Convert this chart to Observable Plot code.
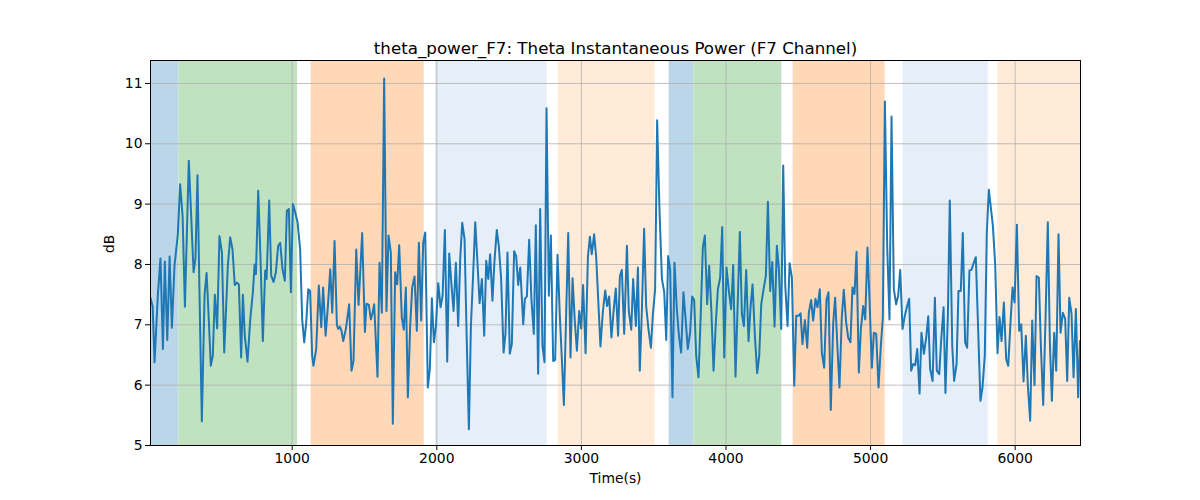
<!DOCTYPE html>
<html><head><meta charset="utf-8">
<script src="https://cdn.jsdelivr.net/npm/d3@7"></script>
<script src="https://cdn.jsdelivr.net/npm/@observablehq/plot@0.6"></script>
<style>body{margin:0;background:#fff}#chart svg{font-family:"DejaVu Sans",sans-serif}</style>
</head><body><div id="chart"></div>
<script>
const titleText = "theta_power_F7: Theta Instantaneous Power (F7 Channel)";
const xLabel = "Time(s)";
const yLabel = "dB";
const xTicks = [1000, 2000, 3000, 4000, 5000, 6000];
const yTicks = [5, 6, 7, 8, 9, 10, 11];

const times = [20,35,48,71,89,106,119,136,152,168,186,209,225,242,258,285,318,331,345,359,375,394,408,421,437,451,465,481,497,514,530,555,571,587,603,617,631,647,659,
672,691,710,728,740,749,765,781,797,813,823,841,855,871,887,903,917,933,949,963,977,991,1005,1021,1037,1055,1069,1083,1097,1111,1124,1138,1147,1166,1184,1201,1214,1231,1247,1263,1277,1293,1309,
1318,1330,1341,1353,1371,1394,1410,1424,1443,1459,1484,1503,1514,1530,1544,1556,1567,1590,1604,1620,1636,1652,1666,1682,1696,1712,1726,1740,1758,1772,1786,1800,1816,1830,1846,1862,1876,1892,1906,1920,1938,
1952,1966,1980,1994,2010,2026,2040,2056,2072,2086,2102,2116,2132,2148,2162,2176,2192,2206,2222,2236,2252,2266,2282,2296,2312,2328,2342,2356,2369,2385,2399,2415,2429,2445,2462,2475,2489,2505,2519,2535,2549,2563,2577,2598,
2609,2623,2639,2655,2671,2685,2701,2715,2731,2745,2759,2775,2789,2805,2819,2835,2851,2865,2879,2895,2909,2925,2939,2955,2969,2985,2999,3012,3029,3045,3059,3072,3088,3102,3118,3132,3148,3165,3178,3192,3208,3225,3238,3254,3266,
3280,3296,3315,3328,3345,3358,3377,3391,3404,3418,3434,3448,3464,3481,3494,3510,3524,3540,3557,3573,3587,3600,3614,3630,3644,3660,3676,3690,3706,3720,3736,3752,3766,3780,3794,3810,3826,3840,3854,3870,3884,3900,3914,
3930,3944,3960,3974,3988,4004,4020,4036,4050,4066,4080,4096,4110,4124,4140,4156,4170,4184,4200,4216,4230,4244,4260,4276,4290,4306,4320,4336,4352,4366,4382,4396,4410,4426,4440,4456,4472,4486,4502,4516,4529,4546,4562,
4573,4589,4603,4619,4633,4649,4663,4679,4695,4709,4725,4742,4755,4772,4785,4801,4815,4831,4845,4861,4875,4889,4903,4919,4933,4949,4963,4979,4993,5009,5023,5039,5055,5071,5085,5099,5115,5131,5145,5161,5177,5191,5205,5221,
5237,5253,5267,5281,5295,5309,5323,5339,5352,5369,5385,5399,5412,5429,5445,5458,5475,5488,5505,5518,5535,5548,5565,5578,5595,5608,5624,5638,5654,5668,5684,5698,5714,5728,5744,5760,5774,5790,5804,5818,
5846,5862,5878,5892,5906,5922,5938,5952,5968,5982,5996,6012,6028,6042,6058,6074,6088,6104,6118,6134,6148,6164,6178,6194,6210,6226,6240,6254,6270,6284,6300,6314,6330,6346,6360,6374,6390,6404,6420,6436,6448];

const values = [7.45,7.3,6.38,7.5,8.1,6.6,8.05,6.75,8.13,6.95,7.98,8.5,9.33,8.8,7.3,9.72,7.87,8.1,9.48,7.5,5.4,7.5,7.86,7.2,6.32,6.49,7.5,6.94,8.47,8.2,6.54,7.98,8.45,8.25,7.66,7.7,7.67,6.46,7.5,
6.82,6.39,7.09,7.54,8.0,7.84,9.22,8.09,6.73,7.9,7.76,9.06,7.81,7.71,7.87,8.31,8.36,7.92,7.73,8.89,8.92,7.54,9.0,8.86,8.7,8.25,7.09,6.71,7.04,7.59,7.56,6.49,6.32,6.6,7.65,6.96,7.62,6.82,7.31,7.92,7.2,8.39,7.0,
6.93,6.97,6.9,6.73,6.93,7.34,6.24,6.4,8.25,7.33,8.52,6.88,7.35,7.33,7.09,7.2,7.34,6.14,8.03,7.2,11.08,7.23,8.48,8.2,5.36,7.87,7.67,8.32,7.12,6.92,7.62,5.8,6.98,7.62,7.8,6.9,8.36,7.07,8.36,8.53,5.96,
6.27,7.44,6.71,6.98,7.69,7.29,7.48,8.57,6.39,8.18,7.65,7.23,8.03,6.98,8.09,8.69,8.42,6.87,5.27,6.98,7.87,8.7,8.0,7.36,7.76,6.82,8.06,7.76,8.17,7.4,8.06,8.57,8.31,7.76,6.54,6.85,8.2,6.52,6.68,8.22,8.14,7.66,7.95,7.01,
7.43,7.47,8.41,7.4,6.85,8.65,6.19,8.92,6.65,6.38,10.59,7.48,8.48,6.4,6.42,8.16,7.15,6.43,5.67,7.2,8.52,6.46,7.77,7.04,6.57,7.23,6.94,7.66,6.53,8.12,8.46,8.17,8.5,8.14,7.34,6.64,7.2,7.57,7.31,7.47,6.79,7.29,7.6,6.82,7.8,
7.91,6.85,8.31,7.23,6.92,7.76,6.98,7.95,6.24,7.2,8.59,7.31,6.93,6.62,7.15,7.59,10.39,8.92,7.76,7.54,6.75,8.14,7.92,5.8,8.03,7.26,6.79,6.54,7.54,7.12,6.6,6.87,7.47,7.41,6.49,6.13,7.2,8.28,8.48,7.34,7.98,7.18,6.24,
7.04,7.59,7.78,8.62,6.46,7.95,7.56,7.26,7.99,6.14,7.26,8.54,7.18,6.98,7.91,6.73,7.29,7.67,6.82,6.2,6.49,7.34,7.59,7.81,9.04,7.56,8.04,6.97,8.31,7.92,6.93,9.64,7.65,6.98,8.02,7.78,5.99,7.15,7.15,7.19,6.68,7.08,6.62,
7.2,7.41,7.07,7.43,7.29,7.59,6.54,6.29,7.41,7.54,5.59,7.04,7.45,6.57,5.96,7.12,7.58,7.04,6.79,6.71,7.62,7.51,8.21,6.21,6.93,7.31,7.09,8.28,7.4,6.29,6.87,6.85,5.96,6.65,7.12,10.7,8.31,7.09,10.45,7.59,7.34,7.48,7.91,6.93,
7.15,7.31,7.43,6.24,6.35,6.33,6.6,5.86,6.87,6.52,6.79,7.14,6.27,6.07,7.45,6.24,6.18,6.73,7.29,5.87,7.18,9.06,6.65,6.07,6.35,7.56,7.56,8.52,6.71,6.62,7.9,7.91,8.03,8.12,6.93,5.74,5.96,6.49,8.53,9.24,
8.64,8.0,6.53,7.13,6.73,7.37,6.43,6.32,7.04,7.62,7.37,8.66,6.9,7.01,6.06,6.82,5.99,5.41,7.07,6.0,7.81,7.78,6.65,5.67,7.09,8.7,6.73,5.74,6.87,6.24,8.5,6.87,7.2,7.1,6.07,7.45,7.18,6.13,7.26,5.8,6.73];

const regionStart = [20, 216, 1131, 1991, 2840, 3607, 3778, 4465, 5225, 5880];
const regionEnd   = [216, 1037, 1913, 2763, 3510, 3778, 4386, 5101, 5813, 6452];
const regionColor = ["#bcd6e9", "#c0e2c0", "#ffd8b7", "#e6eef8", "#ffebd7", "#bcd6e9", "#c0e2c0", "#ffd8b7", "#e6eef8", "#ffebd7"];

const series = times.map((t, i) => ({t, v: values[i]}));
const regions = regionStart.map((s, i) => ({s, e: regionEnd[i], c: regionColor[i]}));

const chart = Plot.plot({
  width: 1200,
  height: 500,
  marginLeft: 150,
  marginRight: 120,
  marginTop: 60,
  marginBottom: 55,
  style: {fontFamily: "DejaVu Sans, sans-serif", fontSize: "13.9px", color: "black", background: "white"},
  x: {domain: [20, 6452]},
  y: {domain: [5, 11.38]},
  color: {type: "identity"},
  marks: [
    Plot.rect(regions, {x1: "s", x2: "e", y1: 5, y2: 11.38, fill: "c"}),
    Plot.gridX(xTicks, {stroke: "#b0b0b0", strokeOpacity: 1, strokeWidth: 0.8}),
    Plot.gridY(yTicks, {stroke: "#b0b0b0", strokeOpacity: 1, strokeWidth: 0.8}),
    Plot.line(series, {x: "t", y: "v", stroke: "#1f77b4", strokeWidth: 2, clip: true}),
    Plot.frame({stroke: "black", strokeWidth: 1}),
    Plot.axisX(xTicks, {tickSize: 5, tickPadding: 3, fontSize: 13.9, label: null, tickFormat: d => String(d)}),
    Plot.axisY(yTicks, {tickSize: 5, tickPadding: 3, fontSize: 13.9, label: null, tickFormat: d => String(d)}),
    Plot.text([titleText], {frameAnchor: "top", lineAnchor: "bottom", dy: -7, fontSize: 16.7}),
    Plot.text([xLabel], {frameAnchor: "bottom", dy: 37, fontSize: 13.9}),
    Plot.text([yLabel], {frameAnchor: "left", dx: -41, rotate: -90, fontSize: 13.9})
  ]
});
document.getElementById("chart").appendChild(chart);
</script>
</body></html>
